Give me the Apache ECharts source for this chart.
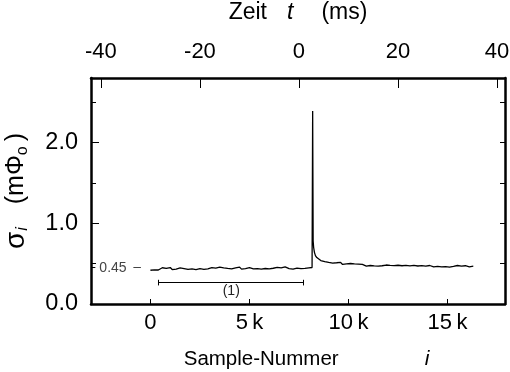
<!DOCTYPE html>
<html>
<head>
<meta charset="utf-8">
<script src="https://cdn.jsdelivr.net/npm/echarts@6/dist/echarts.min.js"></script>
<style>
  html, body { margin: 0; padding: 0; background: #fff; }
  #chart { width: 510px; height: 372px; }
</style>
</head>
<body>
<div id="chart"></div>
<script>
// Acquisition: 250 samples per millisecond, t = 0 at sample 7500
const SAMPLES_PER_MS = 250;
const ZERO_TIME_SAMPLE = 7500;

const sampleRange = [-3000, 17900];
const sigmaRange = [0, 2.8];
const sampleTicks = [0, 5000, 10000, 15000];
const timeTicks = [-40, -20, 0, 20, 40];

// Noise level before the pulse (samples 0, 100, 200, ... 8100)
const preStart = 0;
const preStep = 100;
const preSigma = [
  0.418, 0.440, 0.424, 0.446, 0.421, 0.438, 0.449, 0.425, 0.441, 0.430,
  0.452, 0.427, 0.444, 0.433, 0.420, 0.447, 0.431, 0.439, 0.455, 0.428,
  0.445, 0.434, 0.450, 0.426, 0.442, 0.437, 0.453, 0.429, 0.446, 0.435,
  0.424, 0.451, 0.438, 0.444, 0.430, 0.456, 0.433, 0.447, 0.427, 0.441,
  0.452, 0.436, 0.429, 0.448, 0.440, 0.457, 0.432, 0.445, 0.438, 0.425,
  0.450, 0.442, 0.434, 0.455, 0.437, 0.446, 0.431, 0.452, 0.440, 0.458,
  0.435, 0.449, 0.443, 0.430, 0.454, 0.441, 0.447, 0.436, 0.459, 0.444,
  0.438, 0.453, 0.433, 0.450, 0.445, 0.460, 0.439, 0.451, 0.442, 0.456,
  0.448, 0.455
];

// The pulse and its fast decay
const pulseSamples = [8160, 8190, 8215, 8240, 8280, 8330, 8400, 8460];
const pulseSigma   = [0.452, 2.39, 0.78, 0.70, 0.64, 0.60, 0.575, 0.56];

// Slow relaxation after the pulse (samples 8500, 8600, ... 16300)
const postStart = 8500;
const postStep = 100;
const postSigma = [
  0.560, 0.538, 0.547, 0.525, 0.541, 0.515, 0.532, 0.507, 0.524, 0.511,
  0.498, 0.516, 0.490, 0.509, 0.496, 0.483, 0.502, 0.488, 0.497, 0.479,
  0.495, 0.476, 0.491, 0.482, 0.470, 0.489, 0.477, 0.486, 0.472, 0.484,
  0.468, 0.481, 0.474, 0.465, 0.483, 0.470, 0.478, 0.463, 0.476, 0.469,
  0.480, 0.462, 0.474, 0.467, 0.478, 0.460, 0.473, 0.466, 0.479, 0.464,
  0.471, 0.458, 0.475, 0.466, 0.470, 0.461, 0.477, 0.465, 0.459, 0.474,
  0.467, 0.472, 0.460, 0.476, 0.463, 0.469, 0.458, 0.473, 0.466, 0.462,
  0.477, 0.464, 0.470, 0.459, 0.474, 0.467, 0.461, 0.472, 0.468
];

// Reference level and averaging window (1)
const refLevel = 0.45;
const refLabel = '0.45';
const window1 = [420, 7740];
const window1Level = 0.265;
const window1Label = '(1)';

const FONT = "'Liberation Sans', Arial, Helvetica, sans-serif";

const series = [];
preSigma.forEach((v, k) => series.push([preStart + k * preStep, v]));
pulseSamples.forEach((s, k) => series.push([s, pulseSigma[k]]));
postSigma.forEach((v, k) => series.push([postStart + k * postStep, v]));

const toMs = s => (s - ZERO_TIME_SAMPLE) / SAMPLES_PER_MS;
const kLabel = v => (v === 0 ? '0' : (v / 1000) + '\u2009k');

const chart = echarts.init(document.getElementById('chart'), null, { renderer: 'canvas' });

const axisLine = { show: true, onZero: false, lineStyle: { color: '#000', width: 2.5 } };

chart.setOption({
  animation: false,
  backgroundColor: '#fff',
  textStyle: { fontFamily: FONT, color: '#000' },
  grid: { left: 91, right: 5, top: 78, bottom: 68, containLabel: false, outerBoundsMode: 'none' },
  xAxis: [
    {
      type: 'value',
      position: 'bottom',
      min: sampleRange[0],
      max: sampleRange[1],
      axisLine,
      splitLine: { show: false },
      axisTick: { show: true, inside: true, length: 5, customValues: sampleTicks,
                  lineStyle: { color: '#000', width: 1 } },
      axisLabel: { show: true, customValues: sampleTicks, formatter: kLabel,
                   fontSize: 22, fontFamily: FONT, color: '#000', margin: 8 },
      name: '{a|Sample-Nummer}{g|}{i|i}',
      nameLocation: 'middle',
      nameGap: 45,
      nameTextStyle: {
        padding: [0, 0, 0, 17],
        rich: {
          a: { fontSize: 20.5, fontFamily: FONT, color: '#000' },
          g: { width: 86 },
          i: { fontSize: 21, fontFamily: FONT, fontStyle: 'italic', color: '#000' }
        }
      }
    },
    {
      type: 'value',
      position: 'top',
      min: toMs(sampleRange[0]),
      max: toMs(sampleRange[1]),
      axisLine,
      splitLine: { show: false },
      axisTick: { show: true, inside: true, length: 10, customValues: timeTicks,
                  lineStyle: { color: '#000', width: 1 } },
      axisLabel: { show: true, customValues: timeTicks, formatter: v => String(v),
                   fontSize: 22, fontFamily: FONT, color: '#000', margin: 15 },
      name: '{a|Zeit}{g1|}{i|t}{g2|}{a|(ms)}',
      nameLocation: 'middle',
      nameGap: 54,
      nameTextStyle: {
        rich: {
          a: { fontSize: 23, fontFamily: FONT, color: '#000' },
          g1: { width: 20 },
          g2: { width: 28 },
          i: { fontSize: 23, fontFamily: FONT, fontStyle: 'italic', color: '#000' }
        }
      }
    }
  ],
  yAxis: [
    {
      type: 'value',
      position: 'left',
      min: sigmaRange[0],
      max: sigmaRange[1],
      interval: 1,
      axisLine,
      splitLine: { show: false },
      axisTick: { show: true, inside: true, length: 8, lineStyle: { color: '#000', width: 1 } },
      minorTick: { show: true, splitNumber: 2, length: 5, lineStyle: { color: '#000', width: 1 } },
      minorSplitLine: { show: false },
      axisLabel: { show: true, showMaxLabel: false, formatter: v => v.toFixed(1),
                   fontSize: 23.5, fontFamily: FONT, color: '#000', margin: 13 },
      name: '{s|σ}{sub|i}{g|}{a|(mΦ}{subo|o}{a|)}',
      nameLocation: 'middle',
      nameRotate: 90,
      nameGap: 60,
      nameTextStyle: {
        rich: {
          s: { fontSize: 28, fontFamily: FONT, color: '#000', lineHeight: 30 },
          a: { fontSize: 25, fontFamily: FONT, color: '#000', lineHeight: 30 },
          sub: { fontSize: 16, fontFamily: FONT, fontStyle: 'italic', color: '#000',
                 lineHeight: 16, verticalAlign: 'bottom', padding: [0, 3, 0, 1] },
          subo: { fontSize: 16, fontFamily: FONT, color: '#000',
                  lineHeight: 16, verticalAlign: 'bottom', padding: [0, 5, 0, 0] },
          g: { width: 20 }
        }
      }
    },
    {
      type: 'value',
      position: 'right',
      min: sigmaRange[0],
      max: sigmaRange[1],
      interval: 0.5,
      axisLine,
      splitLine: { show: false },
      axisTick: { show: true, inside: true, length: 5, lineStyle: { color: '#000', width: 1 } },
      axisLabel: { show: false }
    }
  ],
  series: [
    {
      type: 'line',
      xAxisIndex: 0,
      yAxisIndex: 0,
      data: series,
      showSymbol: false,
      symbol: 'none',
      lineStyle: { color: '#000', width: 1.3 },
      z: 3,
      markLine: {
        silent: true,
        symbol: ['none', 'none'],
        animation: false,
        lineStyle: { color: '#000', width: 1, type: 'solid' },
        label: { show: false },
        data: [
          // short tick on the left frame at the reference level, with its value
          [
            { coord: [sampleRange[0], refLevel],
              label: { show: true, position: 'end', formatter: refLabel, distance: 4,
                       fontSize: 14, fontFamily: FONT, color: '#444' } },
            { coord: [sampleRange[0] + 220, refLevel] }
          ],
          // dash pointing at the reference level
          [
            { coord: [-860, refLevel], lineStyle: { color: '#444', width: 1 } },
            { coord: [-480, refLevel] }
          ],
          // averaging window (1)
          [
            { coord: [window1[0], window1Level],
              label: { show: true, position: 'insideMiddleBottom', formatter: window1Label,
                       distance: 2, fontSize: 14, fontFamily: FONT, color: '#222' } },
            { coord: [window1[1], window1Level] }
          ],
          [
            { coord: [window1[0], window1Level - 0.035] },
            { coord: [window1[0], window1Level + 0.035] }
          ],
          [
            { coord: [window1[1], window1Level - 0.035] },
            { coord: [window1[1], window1Level + 0.035] }
          ]
        ]
      }
    }
  ]
});
</script>
</body>
</html>
